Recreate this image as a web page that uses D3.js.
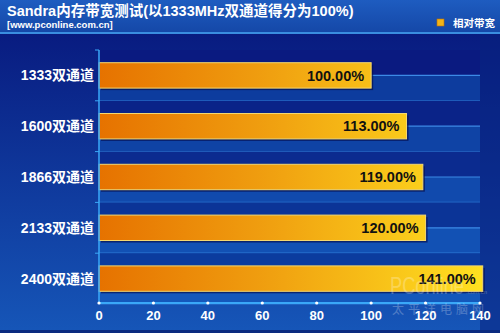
<!DOCTYPE html>
<html>
<head>
<meta charset="utf-8">
<script src="https://cdn.jsdelivr.net/npm/d3@7"></script>
<style>
  body { margin: 0; background: #0a1a7e; }
  svg { display: block; }
  text { font-family: "Liberation Sans", "Noto Sans CJK SC", sans-serif; font-weight: bold; }
</style>
</head>
<body>
<div id="chart"></div>
<script>
var width = 500;
var height = 333;

// data
var categories = ["1333双通道", "1600双通道", "1866双通道", "2133双通道", "2400双通道"];
var values = [100, 113, 119, 120, 141];
var valueLabels = ["100.00%", "113.00%", "119.00%", "120.00%", "141.00%"];
var xTicks = [0, 20, 40, 60, 80, 100, 120, 140];
var titleText = "Sandra内存带宽测试(以1333MHz双通道得分为100%)";
var subtitleText = "[www.pconline.com.cn]";
var legendText = "相对带宽";

var plot = { left: 99, right: 480, top: 50, bottom: 304 };

var xScale = d3.scaleLinear().domain([0, 140]).range([plot.left, plot.right]);
var yScale = d3.scaleBand().domain(categories).range([plot.top, plot.bottom])
    .paddingInner(0.5).paddingOuter(0.25);

var svg = d3.select("#chart").append("svg")
    .attr("width", width)
    .attr("height", height);

var defs = svg.append("defs");

var bg = defs.append("linearGradient").attr("id", "bg")
    .attr("x1", 0).attr("y1", 0).attr("x2", 0).attr("y2", 1);
bg.append("stop").attr("offset", "0%").attr("stop-color", "#07157a");
bg.append("stop").attr("offset", "100%").attr("stop-color", "#1656b8");

var hdr = defs.append("linearGradient").attr("id", "hdr")
    .attr("x1", 0).attr("y1", 0).attr("x2", 0).attr("y2", 1);
hdr.append("stop").attr("offset", "0%").attr("stop-color", "#1e5cc0");
hdr.append("stop").attr("offset", "100%").attr("stop-color", "#1548a8");

var barGrad = defs.append("linearGradient").attr("id", "barGrad")
    .attr("gradientUnits", "userSpaceOnUse")
    .attr("x1", plot.left).attr("y1", 0).attr("x2", xScale(140)).attr("y2", 0);
barGrad.append("stop").attr("offset", "0%").attr("stop-color", "#e67200");
barGrad.append("stop").attr("offset", "45%").attr("stop-color", "#f0a010");
barGrad.append("stop").attr("offset", "100%").attr("stop-color", "#ffe020");

// background
svg.append("rect").attr("x", 0).attr("y", 0).attr("width", width).attr("height", height)
    .attr("fill", "url(#bg)");

// right strip
svg.append("rect").attr("x", plot.right).attr("y", 33).attr("width", width - plot.right).attr("height", height - 33)
    .attr("fill", "#08207e").attr("opacity", 0.55);

// header
svg.append("rect").attr("x", 0).attr("y", 0).attr("width", width).attr("height", 32)
    .attr("fill", "url(#hdr)");
svg.append("rect").attr("x", 0).attr("y", 32).attr("width", width).attr("height", 2)
    .attr("fill", "#3a8ee0");

// bottom border
svg.append("rect").attr("x", 0).attr("y", 330).attr("width", width).attr("height", 3)
    .attr("fill", "#0a2a80");

// row backgrounds
var darkCol = d3.interpolateRgb("#0a1a80", "#0b3c9e");
var lightCol = d3.interpolateRgb("#0d3c9e", "#1458bb");
var step = yScale.step();

var rows = svg.append("g").selectAll("g")
    .data(categories)
    .join("g");

rows.each(function(d, i) {
    var g = d3.select(this);
    var t = i / (categories.length - 1);
    var top = plot.top + i * step;
    var mid = yScale(d) + yScale.bandwidth() / 2;
    g.append("rect").attr("x", plot.left).attr("y", top)
        .attr("width", plot.right - plot.left).attr("height", mid - top)
        .attr("fill", darkCol(t));
    g.append("rect").attr("x", plot.left).attr("y", mid)
        .attr("width", plot.right - plot.left).attr("height", top + step - mid)
        .attr("fill", lightCol(t));
    g.append("line").attr("x1", plot.left).attr("x2", plot.right)
        .attr("y1", mid).attr("y2", mid)
        .attr("stroke", "#3c8ae6").attr("stroke-width", 1.2);
    g.append("line").attr("x1", plot.left).attr("x2", plot.right)
        .attr("y1", top + step).attr("y2", top + step)
        .attr("stroke", "#2d7ad6").attr("stroke-width", 1.2);
    // y tick
    g.append("line").attr("x1", plot.left - 4).attr("x2", plot.left)
        .attr("y1", top).attr("y2", top)
        .attr("stroke", "#3aa8f8").attr("stroke-width", 1);
});

// bars: shadow, then bar
svg.append("g").selectAll("rect")
    .data(values)
    .join("rect")
    .attr("x", xScale(0) + 2)
    .attr("y", (d, i) => yScale(categories[i]) + 2)
    .attr("width", d => xScale(d) - xScale(0))
    .attr("height", yScale.bandwidth())
    .attr("fill", "#061050")
    .attr("opacity", 0.7);

svg.append("g").selectAll("rect")
    .data(values)
    .join("rect")
    .attr("x", xScale(0))
    .attr("y", (d, i) => yScale(categories[i]))
    .attr("width", d => xScale(d) - xScale(0))
    .attr("height", yScale.bandwidth())
    .attr("fill", "url(#barGrad)")
    .attr("stroke", "#f4d870")
    .attr("stroke-width", 1);

// value labels
svg.append("g").selectAll("text")
    .data(values)
    .join("text")
    .attr("x", d => xScale(d) - 7)
    .attr("y", (d, i) => yScale(categories[i]) + yScale.bandwidth() / 2)
    .attr("dy", "0.36em")
    .attr("text-anchor", "end")
    .attr("fill", "#111111")
    .style("font-size", "14.5px")
    .text((d, i) => valueLabels[i]);

// y axis line
svg.append("line")
    .attr("x1", plot.left).attr("x2", plot.left)
    .attr("y1", plot.top).attr("y2", plot.bottom)
    .attr("stroke", "#3aa8f8").attr("stroke-width", 1.5);

// y labels
svg.append("g").selectAll("text")
    .data(categories)
    .join("text")
    .attr("x", 94)
    .attr("y", d => yScale(d) + yScale.bandwidth() / 2)
    .attr("dy", "0.36em")
    .attr("text-anchor", "end")
    .attr("fill", "#ffffff")
    .style("font-size", "14px")
    .text(d => d);

// x axis
svg.append("line")
    .attr("x1", plot.left).attr("x2", plot.right)
    .attr("y1", 303).attr("y2", 303)
    .attr("stroke", "#3aa8f8").attr("stroke-width", 2);

svg.append("g").selectAll("circle")
    .data(xTicks)
    .join("circle")
    .attr("cx", d => xScale(d))
    .attr("cy", 303)
    .attr("r", 1.6)
    .attr("fill", "#ffffff");

svg.append("g").selectAll("text")
    .data(xTicks)
    .join("text")
    .attr("x", d => xScale(d))
    .attr("y", 320)
    .attr("text-anchor", "middle")
    .attr("fill", "#ffffff")
    .style("font-size", "13px")
    .text(d => d);

// faint watermark
var wm = svg.append("g").attr("opacity", 0.25).style("pointer-events", "none");
wm.append("text").attr("x", 390).attr("y", 294).attr("fill", "#ffffff")
    .attr("textLength", 74).attr("lengthAdjust", "spacingAndGlyphs")
    .style("font-size", "24px").style("font-weight", "normal").text("PConline");
wm.append("text").attr("x", 466).attr("y", 294).attr("fill", "#ffffff")
    .style("font-size", "6px").style("font-weight", "normal").text(".com.cn");
wm.append("text").attr("x", 392).attr("y", 314).attr("fill", "#ffffff")
    .style("font-size", "12px").style("font-weight", "normal").attr("letter-spacing", "4px").text("太平洋电脑网");

// title
svg.append("text").attr("x", 7).attr("y", 16)
    .attr("fill", "#ffffff").style("font-size", "14.5px")
    .text(titleText);
svg.append("text").attr("x", 7).attr("y", 28)
    .attr("fill", "#ffffff").style("font-size", "9.5px")
    .text(subtitleText);

// legend
svg.append("rect").attr("x", 437).attr("y", 19).attr("width", 7).attr("height", 7)
    .attr("fill", "#f2b418").attr("stroke", "#c07000").attr("stroke-width", 0.6);
svg.append("text").attr("x", 453).attr("y", 27)
    .attr("fill", "#ffffff").style("font-size", "10.5px")
    .text(legendText);
</script>
</body>
</html>
